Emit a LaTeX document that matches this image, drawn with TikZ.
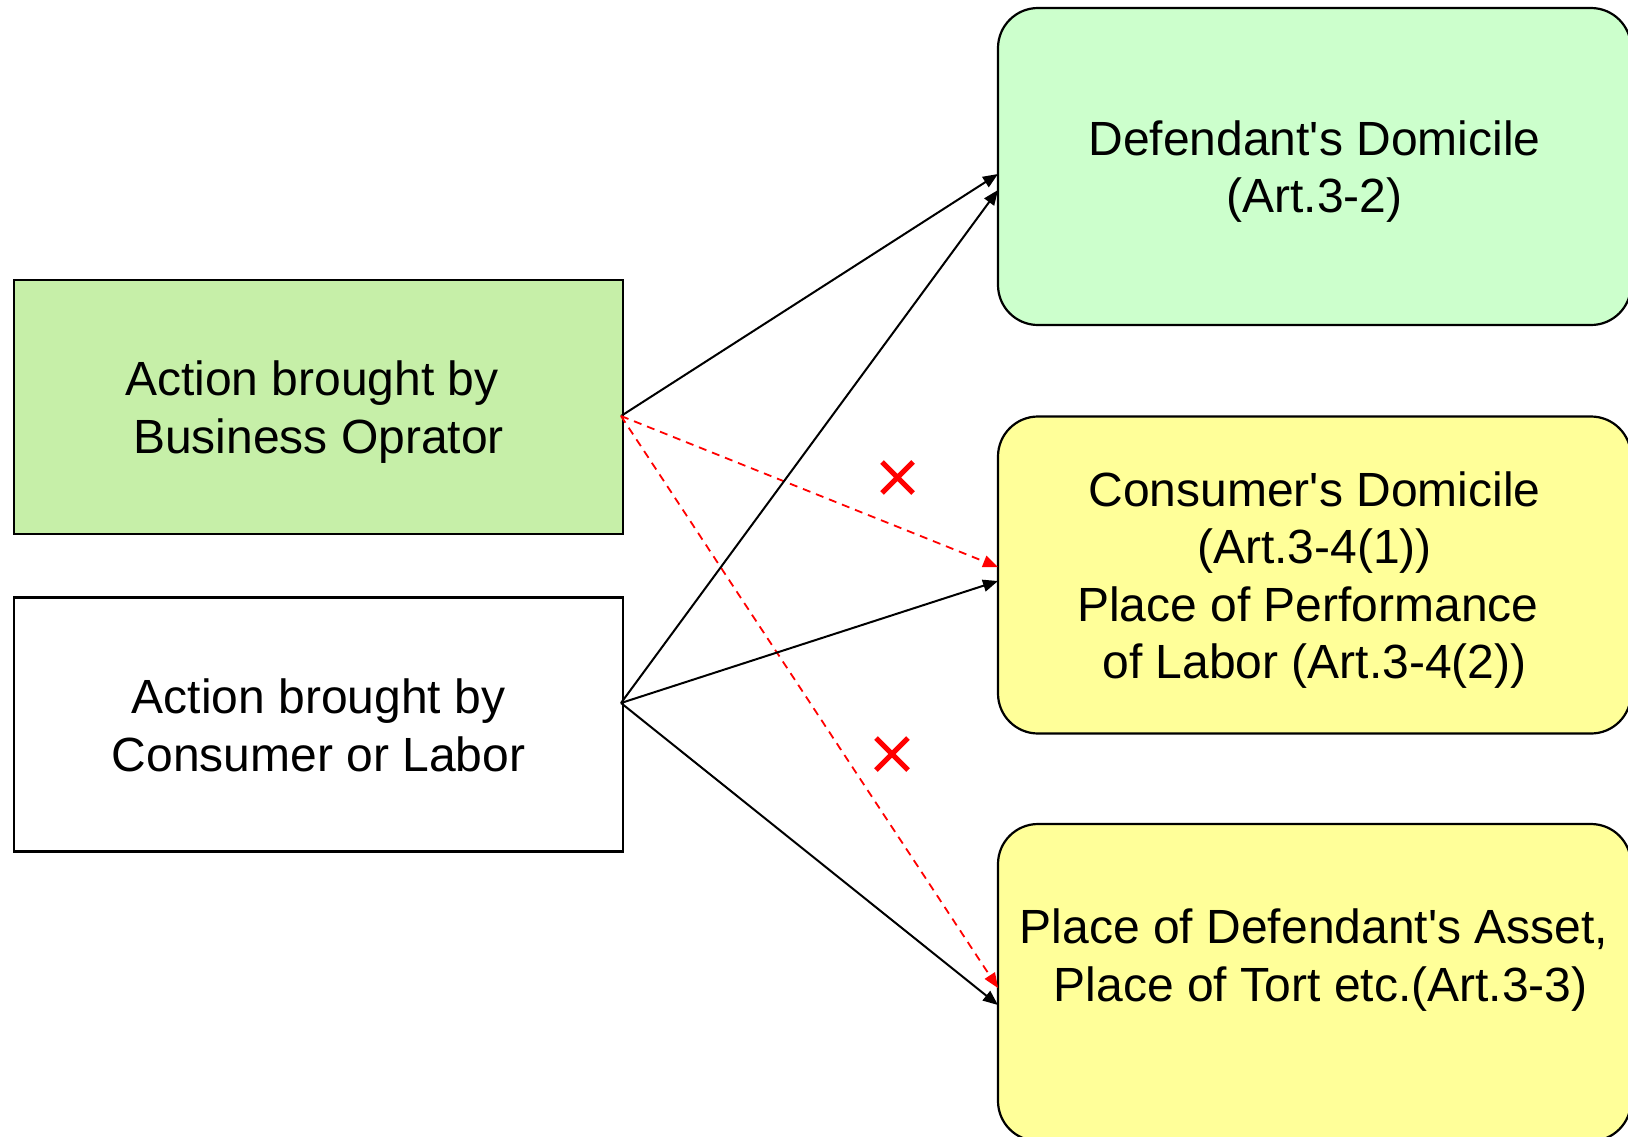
\documentclass[tikz,border=0pt]{standalone}
\usepackage{fontspec}
\setmainfont{Liberation Sans}[Ligatures=TeXOff]
\usepackage{tikz}
\usetikzlibrary{arrows.meta,positioning}
\definecolor{bizgreen}{HTML}{C6EFA8}
\definecolor{domgreen}{HTML}{CCFFCC}
\definecolor{placeyellow}{HTML}{FFFF99}
\newcommand{\blank}{\kern6.7pt}
\tikzset{
    lbox/.style={draw,line width=1.1pt,minimum width=304.5pt,minimum height=127pt},
    rbox/.style={draw,line width=1.1pt,rounded corners=20pt,minimum width=316.5pt,minimum height=158.5pt},
    boxtext/.style={align=center,font=\fontsize{24}{28.8}\selectfont},
    okarrow/.style={line width=1pt,-{Triangle[length=7.5pt,width=6pt]}},
    noarrow/.style={line width=0.9pt,red,dash pattern=on 4pt off 3pt,-{Triangle[length=7.5pt,width=6pt]}},
    nogo/.style={red,line width=2.6pt}
}
\begin{document}
\begin{tikzpicture}[x=0.5pt,y=-0.5pt]
    \useasboundingbox (0,0) rectangle (1628,1136);
    % left: who brings the action
    \node[lbox,fill=bizgreen] (biz) at (318.5,407) {};
    \node[boxtext] (biztext) at (318.5,412) {Action brought by\blank\\Business Oprator};
    \node[lbox] (con) at (318.5,724.5) {};
    \node[boxtext] (context) at (318.5,725.5) {Action brought by\\Consumer or Labor};
    % right: where the action can be brought
    \node[rbox,fill=domgreen] (dom) at (1314.5,166.5) {};
    \node[boxtext] (domtext) at (1314.5,171.5) {Defendant's Domicile\\(Art.3-2)};
    \node[rbox,fill=placeyellow] (cdom) at (1314.5,575) {};
    \node[boxtext] (cdomtext) at (1314.5,580) {Consumer's Domicile\\(Art.3-4(1))\\Place of Performance\blank\\of Labor (Art.3-4(2))};
    \node[rbox,fill=placeyellow] (asset) at (1314.5,982.5) {};
    \node[boxtext] (assettext) at (1314,960) {Place of Defendant's Asset,\\\blank Place of Tort etc.(Art.3-3)};
    % end points of the connectors
    \coordinate (bizout) at (621,416);
    \coordinate (conout) at (621,703);
    \coordinate (domina) at (998,174);
    \coordinate (dominb) at (998,190);
    \coordinate (cdomina) at (998,567);
    \coordinate (cdominb) at (998,581);
    \coordinate (assetina) at (998,988);
    \coordinate (assetinb) at (998,1005);
    \draw[okarrow] (bizout)--(domina);
    \draw[noarrow] (bizout)--(cdomina);
    \draw[noarrow] (bizout)--(assetina);
    \draw[okarrow] (conout)--(dominb);
    \draw[okarrow] (conout)--(cdominb);
    \draw[okarrow] (conout)--(assetinb);
    % crosses
    \draw[nogo] (882,462)--(913,493) (882,493)--(913,462);
    \draw[nogo] (876,738)--(908,770) (876,770)--(908,738);
\end{tikzpicture}
\end{document}
